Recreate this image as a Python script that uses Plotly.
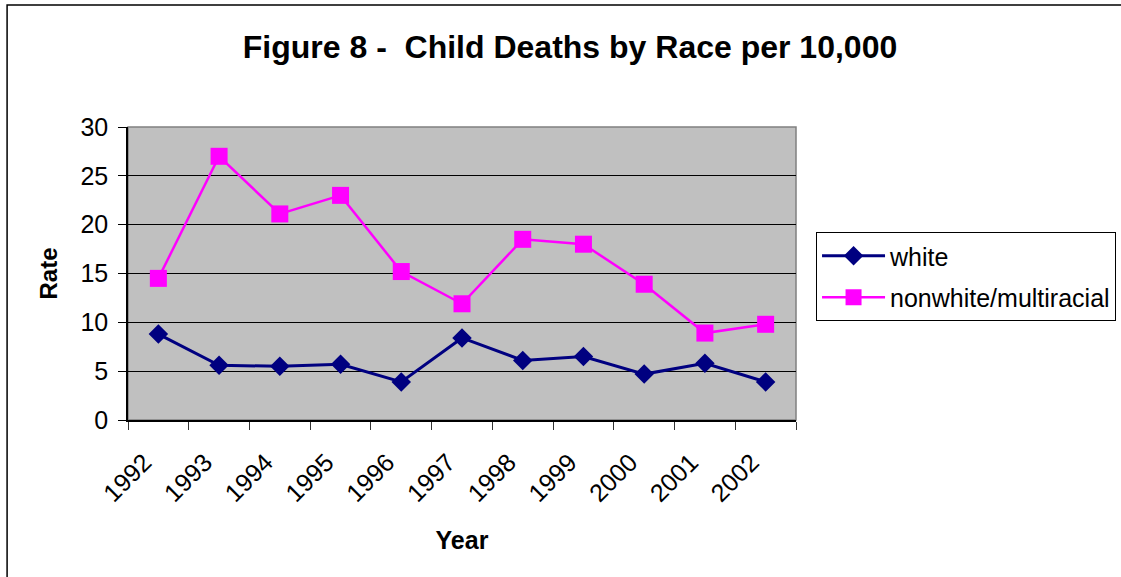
import plotly.graph_objects as go

# Child death rates per 10,000, by year and race
years = ["1992", "1993", "1994", "1995", "1996", "1997",
         "1998", "1999", "2000", "2001", "2002"]
white = [8.8, 5.6, 5.5, 5.7, 3.9, 8.4, 6.1, 6.5, 4.7, 5.8, 3.9]
nonwhite = [14.5, 27.0, 21.1, 23.0, 15.2, 11.9, 18.5, 18.0, 13.9, 8.9, 9.8]
y_ticks = [0, 5, 10, 15, 20, 25, 30]

FONT = "Arial, Liberation Sans, sans-serif"

fig = go.Figure()
fig.add_trace(go.Scatter(
    x=years, y=white, name="white", mode="lines+markers",
    line=dict(color="#000080", width=3),
    marker=dict(symbol="diamond", size=15, color="#000080"),
    legendgroup="a",
))
fig.add_trace(go.Scatter(
    x=years, y=nonwhite, name="nonwhite/multiracial", mode="lines+markers",
    line=dict(color="#FF00FF", width=2.5),
    marker=dict(symbol="square", size=17, color="#FF00FF"),
    legendgroup="b",
))

# outer frame around the whole chart
fig.add_shape(type="rect", xref="paper", yref="paper",
              x0=-0.181, x1=1.6, y0=-0.7, y1=1.416,
              line=dict(color="#000000", width=1.5), layer="below")
# grey frame around the plotting area
fig.add_shape(type="rect", xref="paper", yref="paper",
              x0=0, x1=1, y0=0, y1=1,
              line=dict(color="#808080", width=1.5), layer="below")

fig.update_layout(
    width=1121, height=577,
    margin=dict(l=128, r=325, t=127, b=157, autoexpand=False),
    paper_bgcolor="white",
    plot_bgcolor="#C0C0C0",
    font=dict(family=FONT, size=24, color="black"),
    hovermode=False,
    title=dict(
        text="<b>Figure 8 -&nbsp; Child Deaths by Race per 10,000</b>",
        font=dict(family=FONT, size=32, color="black"),
        xref="container", x=570 / 1121, xanchor="center",
        yref="container", y=1 - 47 / 577, yanchor="middle",
    ),
    legend=dict(
        x=1.03, xanchor="left", y=0.6416, yanchor="top",
        bordercolor="black", borderwidth=1, bgcolor="white",
        font=dict(family=FONT, size=25, color="black"),
        tracegroupgap=6, itemwidth=63,
    ),
    showlegend=True,
)

fig.update_xaxes(
    type="category", range=[-0.5, len(years) - 0.5], tickson="boundaries",
    ticks="outside", ticklen=8, tickcolor="#333333",
    tickangle=-45, tickfont=dict(family=FONT, size=25),
    ticklabelstandoff=16, ticklabelshift=-14,
    showgrid=False, showline=True, linecolor="black", linewidth=1.5,
    title=dict(text="<b>Year</b>", font=dict(family=FONT, size=25), standoff=26),
)
fig.update_yaxes(
    range=[0, 30], tickvals=y_ticks,
    ticks="outside", ticklen=8, tickcolor="black",
    tickfont=dict(family=FONT, size=25), ticklabelstandoff=5,
    showgrid=True, gridcolor="black", gridwidth=1,
    zeroline=False, showline=True, linecolor="black", linewidth=1.5,
    title=dict(text="<b>Rate</b>", font=dict(family=FONT, size=24), standoff=16),
)

fig.write_html("out.html")
